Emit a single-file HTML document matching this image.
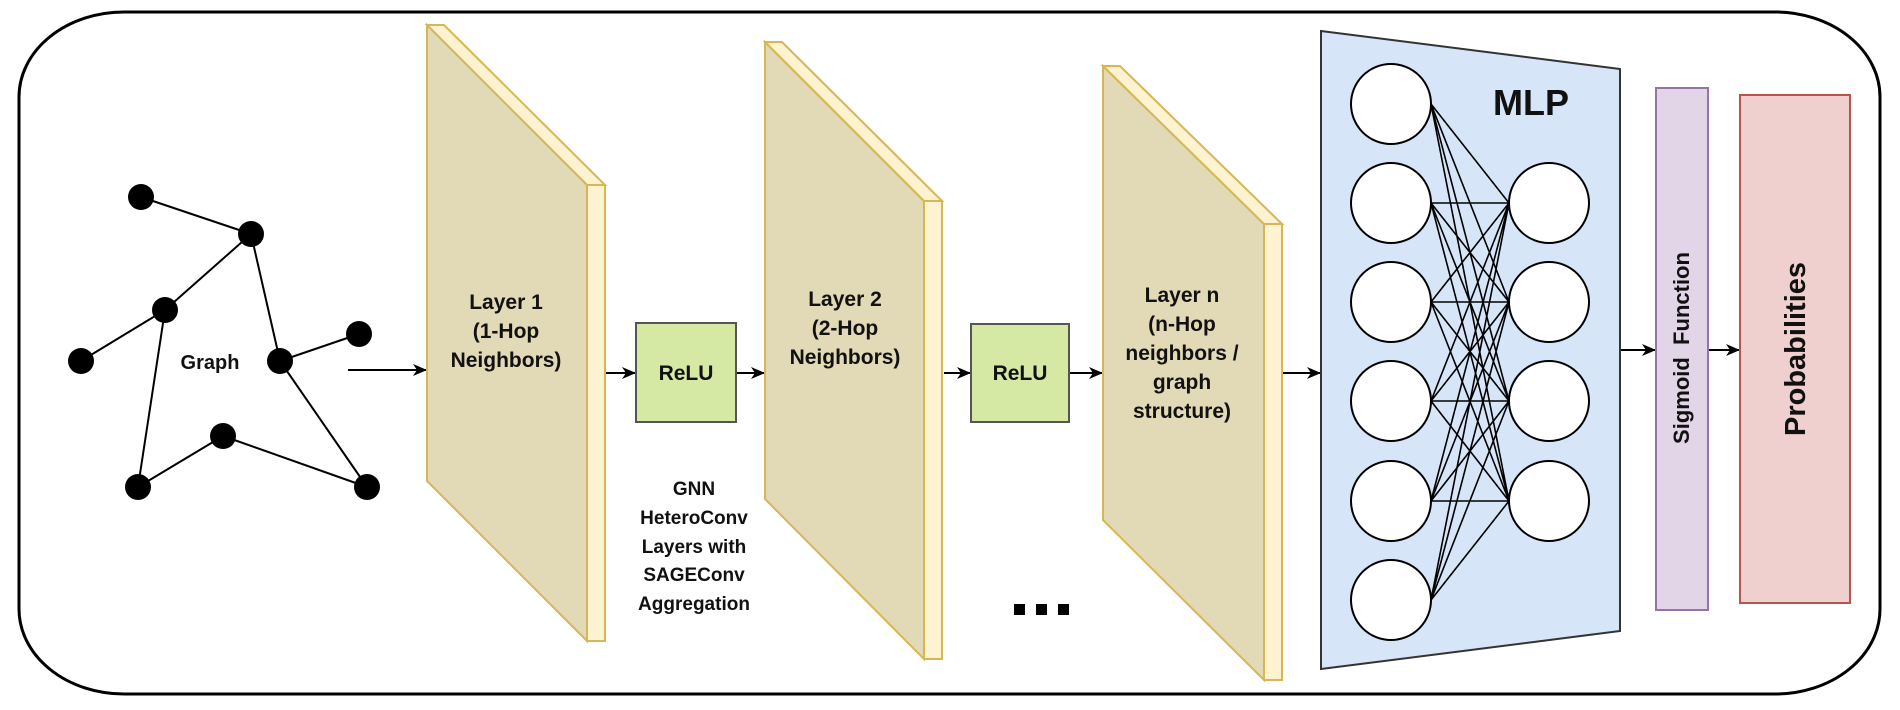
<!DOCTYPE html>
<html><head><meta charset="utf-8"><style>
html,body{margin:0;padding:0;background:#fff;}
svg{display:block;}
text{font-family:"Liberation Sans",Arial,sans-serif;font-weight:bold;fill:#111;}
</style></head><body>
<svg width="1900" height="710" viewBox="0 0 1900 710" xmlns="http://www.w3.org/2000/svg">
<defs><marker id="ah" markerWidth="14" markerHeight="12" refX="13" refY="6" orient="auto" markerUnits="userSpaceOnUse"><path d="M0,0 L14,6 L0,12 L4,6 Z" fill="#000"/></marker></defs>
<rect x="19" y="12" width="1861" height="682" rx="105" ry="85" fill="#fff" stroke="#000" stroke-width="3"/>
<g stroke="#000" stroke-width="2">
<line x1="141" y1="197" x2="251" y2="234"/><line x1="251" y1="234" x2="165" y2="310"/>
<line x1="165" y1="310" x2="81" y2="361"/><line x1="165" y1="310" x2="138" y2="487"/>
<line x1="251" y1="234" x2="280" y2="361"/><line x1="280" y1="361" x2="359" y2="334"/>
<line x1="280" y1="361" x2="367" y2="487"/><line x1="223" y1="436" x2="138" y2="487"/>
<line x1="223" y1="436" x2="367" y2="487"/>
</g>
<g fill="#000">
<circle cx="141" cy="197" r="13"/><circle cx="251" cy="234" r="13"/><circle cx="165" cy="310" r="13"/>
<circle cx="81" cy="361" r="13"/><circle cx="280" cy="361" r="13"/><circle cx="359" cy="334" r="13"/>
<circle cx="223" cy="436" r="13"/><circle cx="138" cy="487" r="13"/><circle cx="367" cy="487" r="13"/>
</g>
<text x="210" y="369" font-size="20" text-anchor="middle">Graph</text>
<g stroke="#000" stroke-width="2" marker-end="url(#ah)">
<line x1="348" y1="370" x2="426" y2="370"/>
<line x1="606" y1="373" x2="635" y2="373"/>
<line x1="737" y1="373" x2="764" y2="373"/>
<line x1="944" y1="373" x2="970" y2="373"/>
<line x1="1070" y1="373" x2="1102" y2="373"/>
<line x1="1282" y1="373" x2="1320" y2="373"/>
<line x1="1620" y1="350" x2="1655" y2="350"/>
<line x1="1709" y1="350" x2="1739" y2="350"/>
</g>
<g stroke="#d6b656" stroke-width="2">
<polygon points="427,25 587,185 587,641 427,481" fill="#e2d9b7"/>
<polygon points="427,25 444,25 605,185 587,185" fill="#fdf3d0"/>
<rect x="587" y="185" width="18" height="456" fill="#fdf3d0"/>
<polygon points="765,42 924,201 924,659 765,499" fill="#e2d9b7"/>
<polygon points="765,42 782,42 942,201 924,201" fill="#fdf3d0"/>
<rect x="924" y="201" width="18" height="458" fill="#fdf3d0"/>
<polygon points="1103,66 1264,224 1264,680 1103,520" fill="#e2d9b7"/>
<polygon points="1103,66 1120,66 1282,224 1264,224" fill="#fdf3d0"/>
<rect x="1264" y="224" width="18" height="456" fill="#fdf3d0"/>
</g>
<g font-size="21" text-anchor="middle">
<text x="506" y="309">Layer 1</text><text x="506" y="338">(1-Hop</text><text x="506" y="367">Neighbors)</text>
<text x="845" y="306">Layer 2</text><text x="845" y="335">(2-Hop</text><text x="845" y="364">Neighbors)</text>
<text x="1182" y="302">Layer n</text><text x="1182" y="331">(n-Hop</text><text x="1182" y="360">neighbors /</text><text x="1182" y="389">graph</text><text x="1182" y="418">structure)</text>
</g>
<rect x="636" y="323" width="100" height="99" fill="#d5e8a4" stroke="#555" stroke-width="2"/>
<rect x="971" y="324" width="98" height="98" fill="#d5e8a4" stroke="#555" stroke-width="2"/>
<text x="686" y="380" font-size="21" text-anchor="middle">ReLU</text>
<text x="1020" y="380" font-size="21" text-anchor="middle">ReLU</text>
<g font-size="19" text-anchor="middle">
<text x="694" y="495">GNN</text><text x="694" y="524">HeteroConv</text><text x="694" y="553">Layers with</text><text x="694" y="581">SAGEConv</text><text x="694" y="610">Aggregation</text>
</g>
<g fill="#000"><rect x="1014" y="604" width="11" height="11"/><rect x="1036" y="604" width="11" height="11"/><rect x="1058" y="604" width="11" height="11"/></g>
<polygon points="1321,31 1620,69 1620,631 1321,669" fill="#d6e5f8" stroke="#333" stroke-width="2"/>
<text x="1531" y="115" font-size="36" text-anchor="middle">MLP</text>
<g stroke="#000" stroke-width="1.6">
<path d="M1431,104L1509,203M1431,104L1509,302M1431,104L1509,401M1431,104L1509,501
M1431,203L1509,203M1431,203L1509,302M1431,203L1509,401M1431,203L1509,501
M1431,302L1509,203M1431,302L1509,302M1431,302L1509,401M1431,302L1509,501
M1431,401L1509,203M1431,401L1509,302M1431,401L1509,401M1431,401L1509,501
M1431,501L1509,203M1431,501L1509,302M1431,501L1509,401M1431,501L1509,501
M1431,600L1509,203M1431,600L1509,302M1431,600L1509,401M1431,600L1509,501"/>
</g>
<g fill="#fff" stroke="#000" stroke-width="2">
<circle cx="1391" cy="104" r="40"/><circle cx="1391" cy="203" r="40"/><circle cx="1391" cy="302" r="40"/>
<circle cx="1391" cy="401" r="40"/><circle cx="1391" cy="501" r="40"/><circle cx="1391" cy="600" r="40"/>
<circle cx="1549" cy="203" r="40"/><circle cx="1549" cy="302" r="40"/><circle cx="1549" cy="401" r="40"/><circle cx="1549" cy="501" r="40"/>
</g>
<rect x="1656" y="88" width="52" height="522" fill="#e1d5e7" stroke="#9673a6" stroke-width="2"/>
<text transform="translate(1689,348) rotate(-90)" font-size="22" text-anchor="middle" xml:space="preserve">Sigmoid  Function</text>
<rect x="1740" y="95" width="110" height="508" fill="#f0d0cf" stroke="#b85450" stroke-width="2"/>
<text transform="translate(1805,349) rotate(-90)" font-size="29" text-anchor="middle">Probabilities</text>
</svg>
</body></html>
